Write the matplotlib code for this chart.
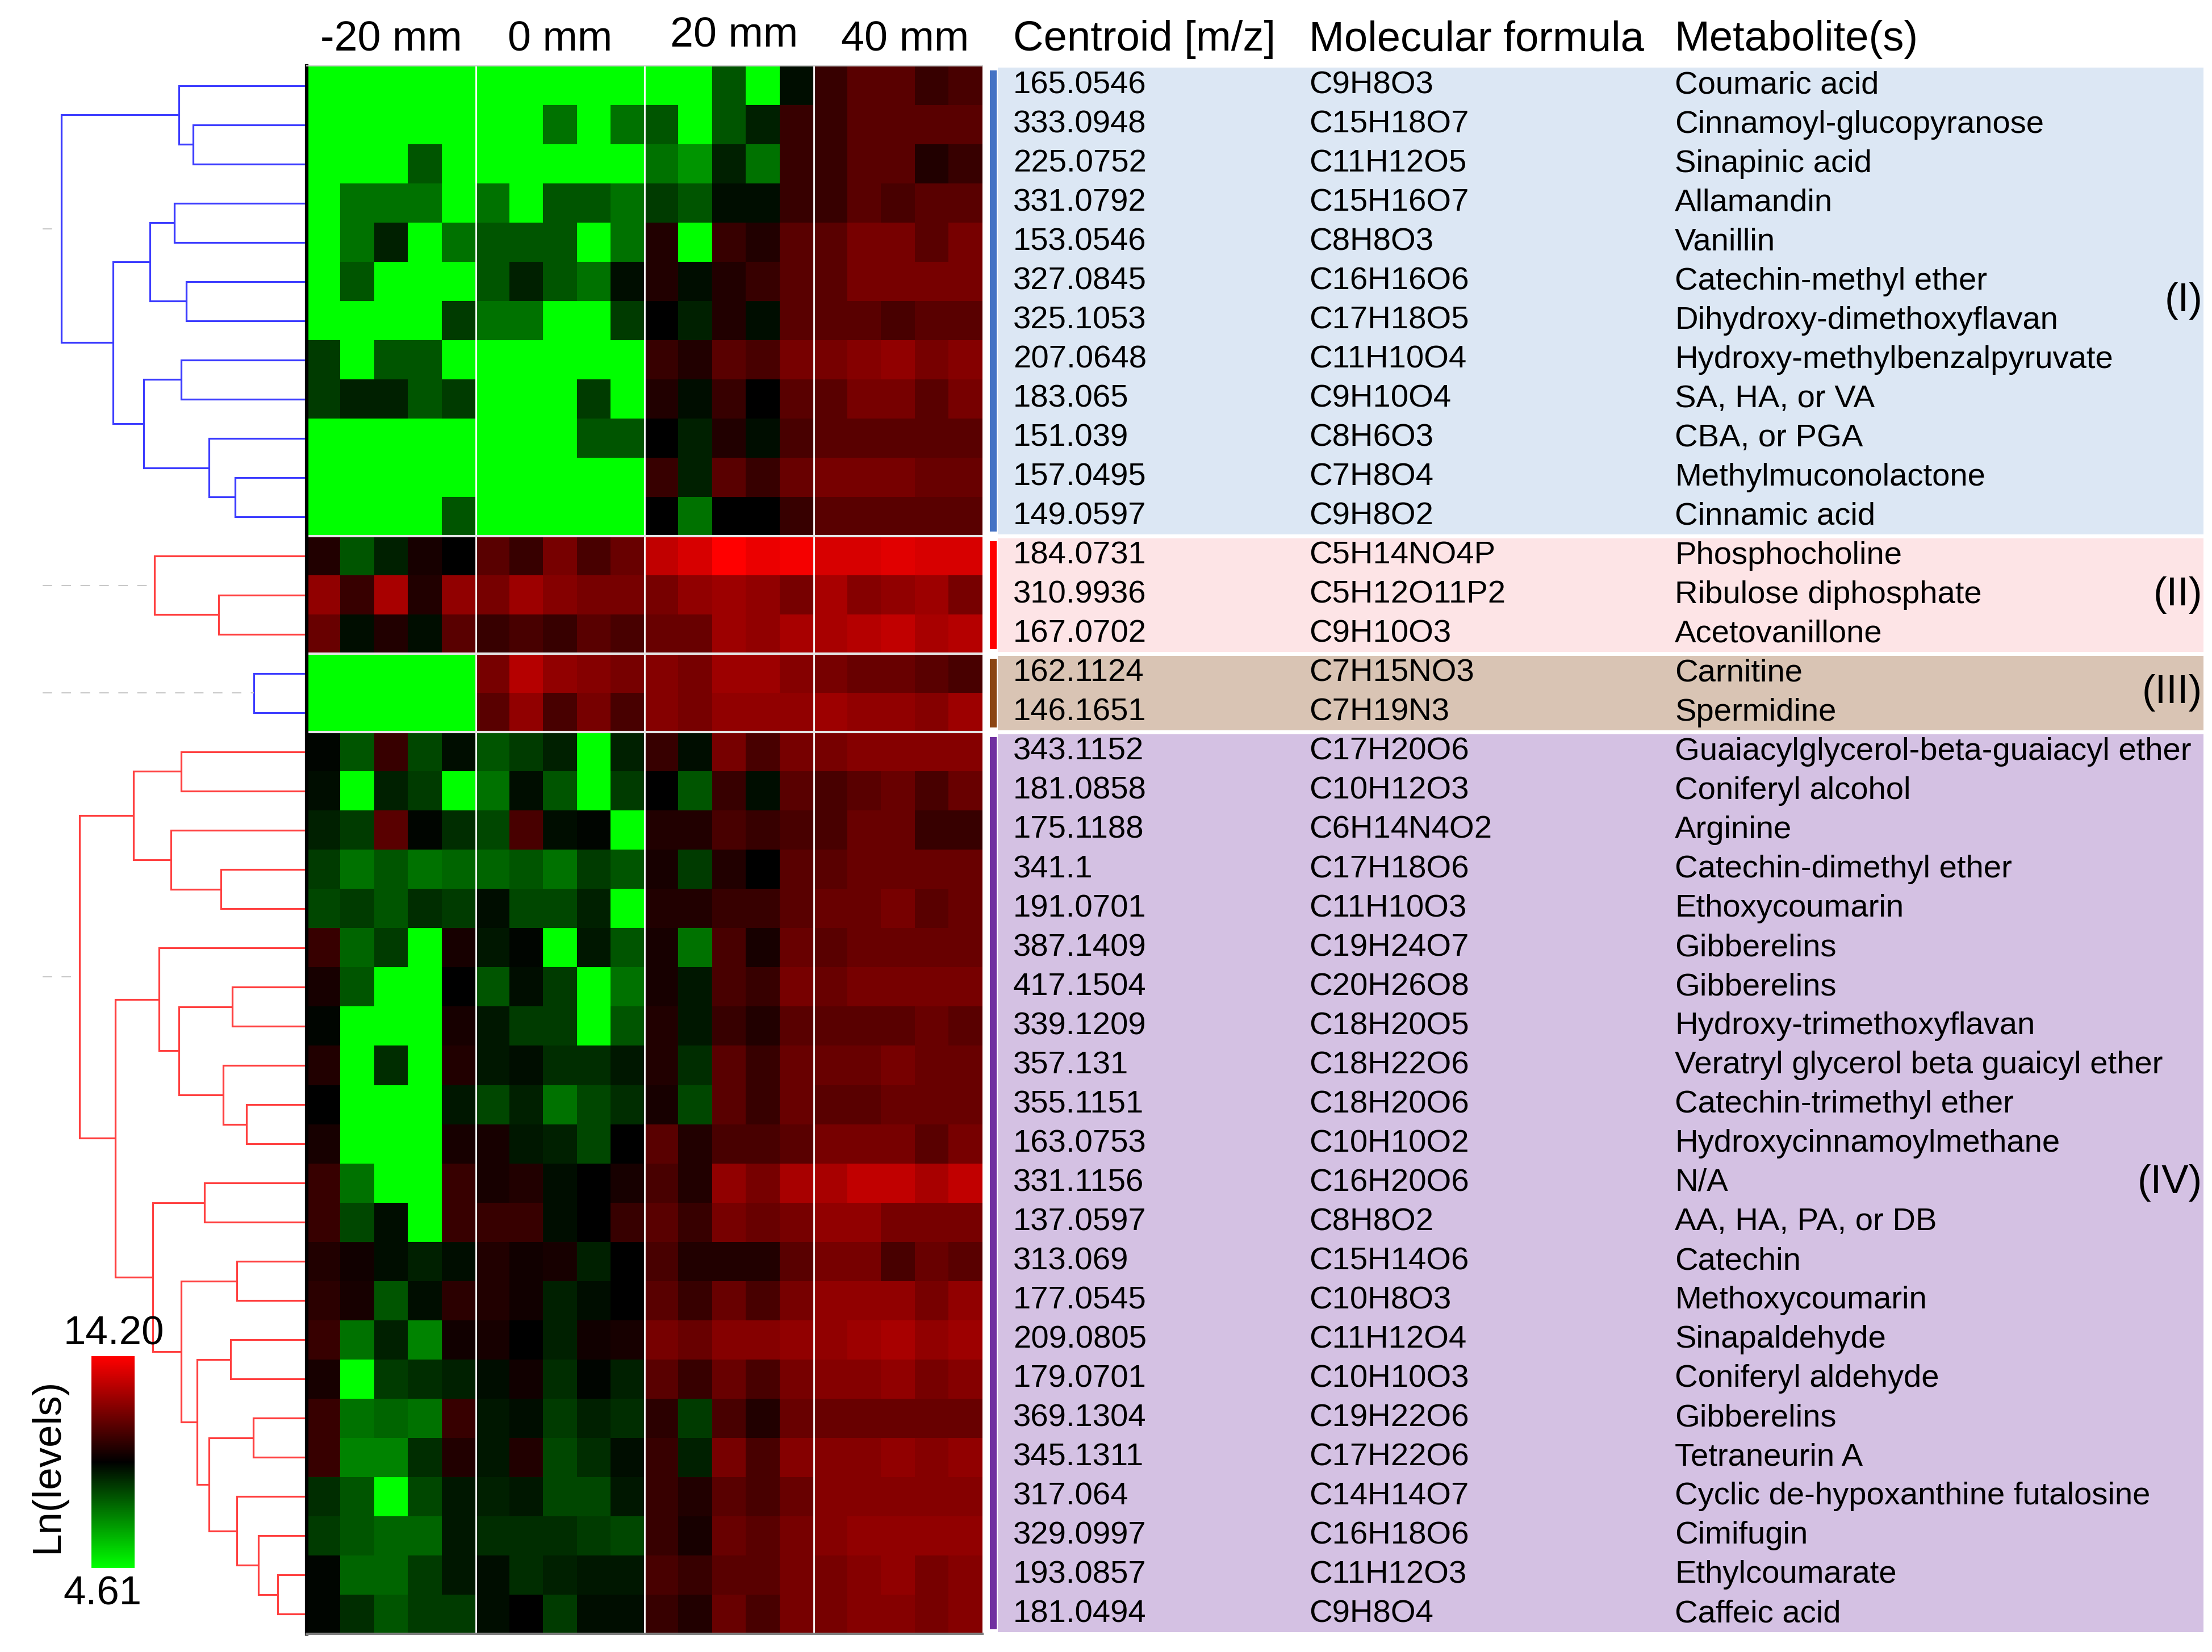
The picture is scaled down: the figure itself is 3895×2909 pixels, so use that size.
import numpy as np
import matplotlib.pyplot as plt
from matplotlib.colors import LinearSegmentedColormap
from matplotlib.patches import Rectangle

plt.rcParams['font.family'] = ['Liberation Sans', 'DejaVu Sans']

# ---------------- data ----------------
distances = ['-20 mm', '0 mm', '20 mm', '40 mm']
ln_min, ln_max = 4.61, 14.20

# shade read per cell, -9 = lowest (green) .. 0 = mid (black) .. 9 = highest (red)
# 5 replicate columns per distance
cluster_I = [
    [-9, -9, -9, -9, -9, -9, -9, -9, -9, -9, -9, -9, -4, -9, -1, 1, 2, 2, 1, 1.5],
    [-9, -9, -9, -9, -9, -9, -9, -5, -9, -5, -4, -9, -4, -2, 1, 1, 2, 2, 2, 2],
    [-9, -9, -9, -4, -9, -9, -9, -9, -9, -9, -5, -6, -2, -5, 1, 1, 2, 2, 0.5, 1],
    [-9, -5, -5, -5, -9, -5, -9, -4, -4, -5, -3, -4, -1, -1, 1, 1, 2, 1.5, 2, 2],
    [-9, -5, -2, -9, -5, -4, -4, -4, -9, -5, 0.5, -9, 1, 0.5, 2, 2, 3, 3, 2, 3],
    [-9, -4, -9, -9, -9, -4, -2, -4, -5, -1, 0.5, -1, 0.5, 1, 2, 2, 3, 3, 3, 3],
    [-9, -9, -9, -9, -3, -5, -5, -9, -9, -3, 0, -2, 0.5, -1, 2, 2, 2, 1.5, 2, 2],
    [-3, -9, -4, -4, -9, -9, -9, -9, -9, -9, 1, 0.5, 2, 1.5, 3, 3, 3.5, 4, 3, 3.5],
    [-3, -2, -2, -4, -3, -9, -9, -9, -3, -9, 0.5, -1, 1, 0, 2, 2, 3, 3, 2, 3],
    [-9, -9, -9, -9, -9, -9, -9, -9, -4, -4, 0, -2, 0.5, -1, 1.5, 2, 2, 2, 2, 2],
    [-9, -9, -9, -9, -9, -9, -9, -9, -9, -9, 1, -2, 2, 1, 2.5, 3, 3, 3, 2.5, 2.5],
    [-9, -9, -9, -9, -4, -9, -9, -9, -9, -9, 0, -5, 0, 0, 1, 2, 2, 2, 2, 2],
]
cluster_II = [
    [0.5, -4, -2, 0.3, 0, 2, 1, 3, 1.5, 2.5, 6, 7, 9, 8, 8.5, 7, 7, 7.5, 7, 7],
    [4, 1, 5, 0.5, 4, 3, 4.5, 3.5, 3, 3, 3, 4, 4.5, 4, 3, 5, 3.5, 4, 4.5, 3],
    [2.5, -1, 0.5, -1, 2, 1, 1.5, 1, 2, 1.5, 2.5, 2.5, 4.5, 4, 5, 5, 5.5, 6, 5, 5.5],
]
cluster_III = [
    [-9, -9, -9, -9, -9, 3, 5.5, 4, 3.5, 3, 3.5, 3, 4.5, 4.5, 3.5, 3, 2.5, 2.5, 2, 1.5],
    [-9, -9, -9, -9, -9, 2, 4, 1.5, 3, 1.5, 3.5, 3, 4, 4, 4, 4.5, 4, 4, 3.5, 4.5],
]
cluster_IV = [
    [-0.5, -4, 1, -3.5, -1, -4, -3, -2, -9, -2, 1, -1, 3, 1.5, 3, 3, 3.5, 3.5, 3.5, 3.5],
    [-1, -9, -2, -3, -9, -5, -1, -4, -9, -3, 0, -4, 1, -1, 2, 1.5, 2, 2.5, 1.5, 2.5],
    [-2, -3, 2, -0.5, -2.5, -3.5, 1.5, -1, -0.5, -9, 0.5, 0.5, 1.5, 1, 1.5, 1.5, 2.5, 2.5, 1, 1],
    [-3, -5, -4, -5, -4.5, -4.5, -4, -5, -3, -4, 0.3, -3, 0.5, 0, 2, 2, 2.5, 2.5, 2.5, 2.5],
    [-3.5, -3, -4, -2.5, -3, -1, -3.5, -3.5, -2, -9, 0.5, 0.5, 1, 1, 2, 2.5, 2.5, 3, 2, 2.5],
    [1, -4.5, -3, -9, 0.3, -1.5, -0.5, -9, -1.5, -4, 0.3, -5, 1.5, 0.3, 2.5, 2, 2.5, 2.5, 2.5, 2.5],
    [0.3, -4, -9, -9, 0, -4, -1, -3, -9, -5, 0.3, -1.5, 1.5, 1, 3, 2.5, 3, 3, 3, 3],
    [-0.5, -9, -9, -9, 0.3, -1.5, -3, -3, -9, -4, 0.5, -1.5, 1, 0.5, 2, 2, 2, 2, 2.5, 2],
    [0.5, -9, -2.5, -9, 0.5, -1.5, -1, -2.5, -2.5, -1.5, 0.5, -2.5, 2, 1, 2.5, 2.5, 2.5, 3, 2.5, 2.5],
    [0, -9, -9, -9, -1.5, -3.5, -2, -5, -3.5, -2.5, 0.3, -3.5, 2, 1, 2.5, 2, 2, 2.5, 2.5, 2.5],
    [0.3, -9, -9, -9, 0.3, 0.3, -1.5, -2, -3.5, 0, 2, 0.5, 1.5, 1.5, 2, 3, 3, 3, 2, 3],
    [1, -5, -9, -9, 1, 0.3, 0.5, -1, 0, 0.3, 1.5, 0.5, 4, 3, 5, 5, 6, 6, 5, 6],
    [1, -3.5, -1, -9, 1, 1, 1, -1, 0, 1, 2, 1, 3, 2.5, 3, 4, 4, 3, 3, 3],
    [0.5, 0.2, -1, -2, -1, 0.5, 0.2, 0.3, -2, 0, 1.5, 0.5, 0.5, 0.5, 2, 3, 3, 1.5, 2.5, 2],
    [0.7, 0.3, -4, -1, 0.7, 0.5, 0.2, -2, -1, 0, 2, 1, 2.5, 1.5, 3, 4, 4, 4, 3, 4],
    [1, -5, -2, -5.5, 0.2, 0.3, 0, -2, 0.2, 0.3, 3, 2.5, 3.5, 3.5, 4, 4, 4.5, 5, 4, 4.5],
    [0.3, -9, -3, -2.5, -2, -1, 0.2, -2.5, -0.5, -2, 2, 1, 2.5, 1.5, 3, 3.5, 3.5, 4, 3, 3.5],
    [1, -5, -4.5, -5, 1, -1.5, -1, -3, -2, -2.5, 0.7, -3, 1.5, 0.5, 2.5, 2.5, 2.5, 2.5, 2.5, 2.5],
    [1, -5.5, -5.5, -2.5, 0.5, -1.5, 0.5, -3.5, -2.5, -1, 1, -2, 3, 1.5, 3.5, 3.5, 3.5, 4, 3.5, 4],
    [-2.5, -4, -9, -3.5, -1.5, -2, -1.5, -3.5, -3.5, -1.5, 1, 0.5, 2, 1.5, 2.5, 3.5, 3.5, 3.5, 3.5, 3.5],
    [-3, -4, -4.5, -4.5, -1.5, -2.5, -2.5, -2.5, -3, -3.5, 1, 0.3, 2.5, 2, 3, 3.5, 4, 4, 4, 4],
    [-0.5, -4.5, -4.5, -3, -1.5, -1, -2.5, -2, -1.5, -1.5, 1.5, 1, 2, 2, 3, 3, 3.5, 4, 3, 3.5],
    [-0.5, -2.5, -4, -3, -3, -1, -0.2, -3, -1, -1, 1, 0.5, 2.5, 1.5, 3, 3, 3.5, 3.5, 3, 3.5],
]

centroids = ['165.0546', '333.0948', '225.0752', '331.0792', '153.0546', '327.0845',
             '325.1053', '207.0648', '183.065', '151.039', '157.0495', '149.0597',
             '184.0731', '310.9936', '167.0702',
             '162.1124', '146.1651',
             '343.1152', '181.0858', '175.1188', '341.1', '191.0701', '387.1409',
             '417.1504', '339.1209', '357.131', '355.1151', '163.0753', '331.1156',
             '137.0597', '313.069', '177.0545', '209.0805', '179.0701', '369.1304',
             '345.1311', '317.064', '329.0997', '193.0857', '181.0494']
formulas = ['C9H8O3', 'C15H18O7', 'C11H12O5', 'C15H16O7', 'C8H8O3', 'C16H16O6',
            'C17H18O5', 'C11H10O4', 'C9H10O4', 'C8H6O3', 'C7H8O4', 'C9H8O2',
            'C5H14NO4P', 'C5H12O11P2', 'C9H10O3',
            'C7H15NO3', 'C7H19N3',
            'C17H20O6', 'C10H12O3', 'C6H14N4O2', 'C17H18O6', 'C11H10O3', 'C19H24O7',
            'C20H26O8', 'C18H20O5', 'C18H22O6', 'C18H20O6', 'C10H10O2', 'C16H20O6',
            'C8H8O2', 'C15H14O6', 'C10H8O3', 'C11H12O4', 'C10H10O3', 'C19H22O6',
            'C17H22O6', 'C14H14O7', 'C16H18O6', 'C11H12O3', 'C9H8O4']
metabolites = ['Coumaric acid', 'Cinnamoyl-glucopyranose', 'Sinapinic acid', 'Allamandin',
               'Vanillin', 'Catechin-methyl ether', 'Dihydroxy-dimethoxyflavan',
               'Hydroxy-methylbenzalpyruvate', 'SA, HA, or VA', 'CBA, or PGA',
               'Methylmuconolactone', 'Cinnamic acid',
               'Phosphocholine', 'Ribulose diphosphate', 'Acetovanillone',
               'Carnitine', 'Spermidine',
               'Guaiacylglycerol-beta-guaiacyl ether', 'Coniferyl alcohol', 'Arginine',
               'Catechin-dimethyl ether', 'Ethoxycoumarin', 'Gibberelins', 'Gibberelins',
               'Hydroxy-trimethoxyflavan', 'Veratryl glycerol beta guaicyl ether',
               'Catechin-trimethyl ether', 'Hydroxycinnamoylmethane', 'N/A',
               'AA, HA, PA, or DB', 'Catechin', 'Methoxycoumarin', 'Sinapaldehyde',
               'Coniferyl aldehyde', 'Gibberelins', 'Tetraneurin A',
               'Cyclic de-hypoxanthine futalosine', 'Cimifugin', 'Ethylcoumarate',
               'Caffeic acid']

group_names = ['(I)', '(II)', '(III)', '(IV)']
group_sizes = [len(cluster_I), len(cluster_II), len(cluster_III), len(cluster_IV)]
group_bg = ['#dce7f4', '#fde4e6', '#d9c4b4', '#d4c1e3']
group_bar = ['#4472c4', '#ff0000', '#8b4513', '#7030a0']
group_tree_color = ['#3c3cff', '#ff4040', '#3c3cff', '#ff4040']

# dendrograms: (merge height, left, right), leaves are row indices
tree_I = (4.28, (2.22, 0, (1.97, 1, 2)),
          (3.37, (2.72, (2.30, 3, 4), (2.09, 5, 6)),
           (2.83, (2.18, 7, 8), (1.69, 9, (1.23, 10, 11)))))
tree_II = (2.64, 12, (1.52, 13, 14))
tree_III = (0.90, 15, 16)
tree_IV = (3.96,
           (3.01, (2.18, 17, 18), (2.35, 19, (1.48, 20, 21))),
           (3.33,
            (2.56, 22, (2.22, (1.28, 23, 24), (1.44, 25, (1.03, 26, 27)))),
            (2.67, (1.77, 28, 29),
             (2.18, (1.20, 30, 31),
              (1.90, (1.31, 32, 33),
               (1.69, (0.91, 34, 35),
                (1.20, 36, (0.82, 37, (0.48, 38, 39)))))))))
trees = [tree_I, tree_II, tree_III, tree_IV]

# ---------------- layout ----------------
W, H = 3895, 2909
fig = plt.figure(figsize=(W / 100, H / 100), dpi=100)


def box(x0, y0, x1, y1):
    return [x0 / W, 1 - y1 / H, (x1 - x0) / W, (y1 - y0) / H]


shade = np.array(cluster_I + cluster_II + cluster_III + cluster_IV, dtype=float)
# calibrate the eye-read shade scale to the linear colour key
rel = np.abs(shade) / 9
rel = np.where(shade > 0, rel ** 0.7, -(rel ** 1.35))
ln_mid = (ln_min + ln_max) / 2
ln_levels = ln_mid + rel * (ln_max - ln_mid)
n_rows, n_cols = ln_levels.shape
bounds = np.cumsum([0] + group_sizes)

cmap = LinearSegmentedColormap.from_list('gkr', ['#00ff00', '#000000', '#ff0000'])

# heatmap
ax = fig.add_axes(box(540, 116, 1730, 2877))
im = ax.imshow(ln_levels, cmap=cmap, vmin=ln_min, vmax=ln_max, aspect='auto',
               interpolation='nearest', extent=(0, n_cols, n_rows, 0))
for xv in [5, 10, 15]:
    ax.axvline(xv, color='white', lw=2)
for yv in bounds[1:-1]:
    ax.axhline(yv, color='#e4e4e4', lw=3)
ax.set_xticks([])
ax.set_yticks([])
ax.spines['right'].set_visible(False)
ax.spines['left'].set_color('black')
ax.spines['left'].set_linewidth(4.5)
ax.spines['bottom'].set_color('#808080')
ax.spines['bottom'].set_linewidth(3)
ax.spines['top'].set_color('#cccccc')
ax.spines['top'].set_linewidth(1.5)
header_x = [2.5, 7.5, 12.65, 17.7]
header_y = [-0.39, -0.39, -0.48, -0.39]
for name, hx, hy in zip(distances, header_x, header_y):
    ax.text(hx, hy, name, ha='center', va='baseline', fontsize=53, clip_on=False)

# table with metabolite info
tab = fig.add_axes(box(1736, 116, 3895, 2877))
tab.set_xlim(1736, 3895)
tab.set_ylim(n_rows, 0)
tab.axis('off')
for g in range(4):
    y0, n = bounds[g], group_sizes[g]
    tab.add_patch(Rectangle((1757, y0 + 0.05), 3880 - 1757, n - 0.1,
                            facecolor=group_bg[g], edgecolor='none'))
    tab.add_patch(Rectangle((1743, y0 + 0.12), 12, n - 0.24,
                            facecolor=group_bar[g], edgecolor='none'))
    tab.text(3878, y0 + n / 2, group_names[g], ha='right', va='center', fontsize=51)
for i in range(n_rows):
    tab.text(1784, i + 0.5, centroids[i], ha='left', va='center', fontsize=40.5)
    tab.text(2305, i + 0.5, formulas[i], ha='left', va='center', fontsize=40.5)
    tab.text(2949, i + 0.5, metabolites[i], ha='left', va='center', fontsize=40.5)
for hx, name in zip([1784, 2305, 2949], ['Centroid [m/z]', 'Molecular formula', 'Metabolite(s)']):
    tab.text(hx, -0.39, name, ha='left', va='baseline', fontsize=53.5, clip_on=False)

# dendrogram
den = fig.add_axes(box(75, 116, 537, 2877))
den.set_xlim(4.61, 0)
den.set_ylim(n_rows, 0)
den.axis('off')


def draw(node, color):
    if not isinstance(node, tuple):
        return node + 0.5, 0.0
    h, left, right = node
    yl, hl = draw(left, color)
    yr, hr = draw(right, color)
    den.plot([hl, h, h, hr], [yl, yl, yr, yr], color=color, lw=2.3,
             solid_joinstyle='miter', solid_capstyle='butt')
    return (yl + yr) / 2, h


for tree, col in zip(trees, group_tree_color):
    y_root, h_root = draw(tree, col)
    den.plot([4.61, h_root], [y_root, y_root], color='#c8c8c8', lw=1.5,
             dashes=(8, 8))

# colour key
cax = fig.add_axes(box(161, 2388, 237, 2761))
cb = fig.colorbar(im, cax=cax)
cb.outline.set_visible(False)
cb.set_ticks([])
fig.text(200 / W, 1 - 2368 / H, f'{ln_max:.2f}', ha='center', va='baseline', fontsize=51)
fig.text(180 / W, 1 - 2825 / H, f'{ln_min:.2f}', ha='center', va='baseline', fontsize=51)
fig.text(84 / W, 1 - 2581 / H, 'Ln(levels)', ha='center', va='center', rotation=90,
         fontsize=51)

fig.savefig('out.png', dpi=100)
